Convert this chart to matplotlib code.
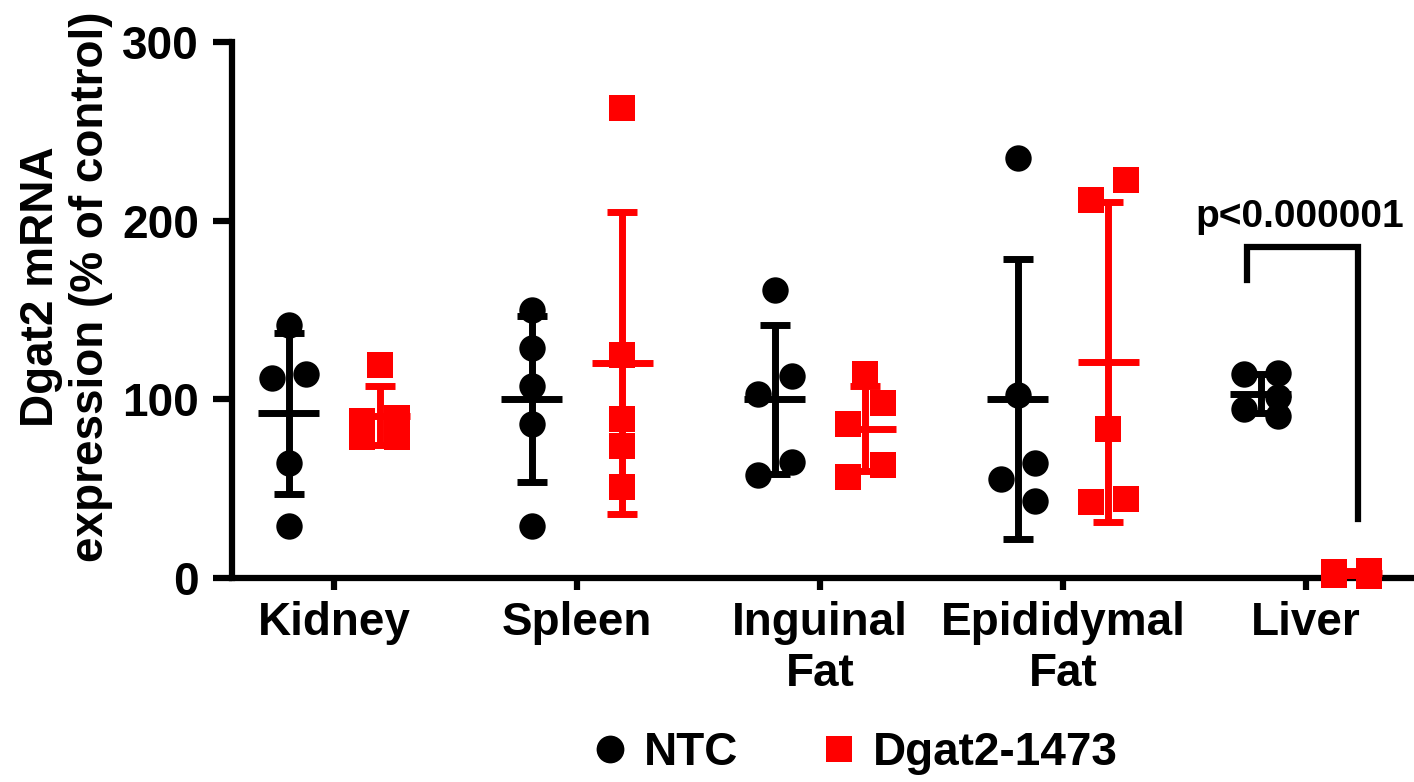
import matplotlib
matplotlib.use("Agg")
import matplotlib.pyplot as plt
from matplotlib.lines import Line2D
import numpy as np

# data (% of control)
tissues = ["Kidney", "Spleen", "Inguinal\nFat", "Epididymal\nFat", "Liver"]
ntc = [
    [141.6, 111.7, 114.0, 64.2, 29.1],
    [150.0, 128.9, 107.4, 86.0, 29.3],
    [161.2, 113.2, 102.8, 64.9, 57.5],
    [234.9, 102.4, 64.5, 55.4, 43.3],
    [114.5, 114.2, 101.5, 94.4, 90.8],
]
dgat2 = [
    [119.2, 89.7, 88.0, 78.7, 78.7],
    [263.2, 124.8, 88.8, 74.0, 50.8],
    [114.0, 97.8, 86.2, 63.2, 56.7],
    [222.7, 211.5, 83.2, 44.0, 42.7],
    [3.5, 4.0, 3.0, 1.5, 1.0],
]
p_label = "p<0.000001"

plt.rcParams["font.family"] = ["Liberation Sans", "DejaVu Sans"]
plt.rcParams["font.weight"] = "bold"

FS = 33
LW = 4.5
group_off = 0.187
swarm_dx = 0.07
overlap = 14.0


def swarm_offsets(values):
    """GraphPad-like spreading of overlapping points."""
    order = np.argsort(values)[::-1]
    vals = np.asarray(values)[order]
    offs = np.zeros(len(vals))
    start = 0
    for i in range(1, len(vals) + 1):
        if i == len(vals) or vals[i - 1] - vals[i] >= overlap:
            n = i - start
            if n > 1:
                for k in range(n):
                    offs[start + k] = swarm_dx if k % 2 == 0 else -swarm_dx
            start = i
    res = np.zeros(len(vals))
    res[order] = offs
    return res


fig = plt.figure(figsize=(14.14, 7.82), dpi=100)
ax = fig.add_axes([232 / 1414, 1 - 578 / 782, 1180 / 1414, 536 / 782])

x = np.arange(len(tissues))
for data, sign, color, marker in [(ntc, -1, "black", "o"), (dgat2, 1, "#ff0000", "s")]:
    for i, vals in enumerate(data):
        cx = x[i] + sign * group_off
        xs = cx + swarm_offsets(vals)
        ax.plot(xs, vals, linestyle="none", marker=marker, markersize=19,
                markeredgewidth=0, color=color, zorder=3, clip_on=False)
        m = np.mean(vals)
        sd = np.std(vals, ddof=1)
        ax.errorbar(cx, m, yerr=sd, fmt="none", ecolor=color, elinewidth=5,
                    capsize=10.8, capthick=5, zorder=4)
        ax.hlines(m, cx - 0.125, cx + 0.125, color=color, linewidth=5, zorder=4)

# significance bracket for liver
bx0, bx1 = x[4] - 0.245, x[4] + 0.215
ax.plot([bx0, bx0, bx1, bx1], [167, 185, 185, 33], color="black",
        linewidth=LW, solid_joinstyle="miter", clip_on=False, zorder=5)
ax.text(x[4] - 0.025, 196.5, p_label, ha="center", va="baseline",
        fontsize=28, fontweight="bold")

ax.set_xlim(-0.42, 4.436)
ax.set_ylim(0, 300)
ax.set_yticks([0, 100, 200, 300])
ax.set_xticks(x)
ax.set_xticklabels(tissues, fontsize=FS, fontweight="bold")
ax.tick_params(axis="y", labelsize=FS, length=13.7, width=LW, pad=10)
ax.tick_params(axis="x", length=8.6, width=LW, pad=8)
for lab in ax.get_yticklabels():
    lab.set_fontweight("bold")
for s in ["top", "right"]:
    ax.spines[s].set_visible(False)
for s in ["left", "bottom"]:
    ax.spines[s].set_linewidth(LW)
    ax.spines[s].set_capstyle("projecting")
    ax.spines[s].set_zorder(2)

fig.text(66 / 1414, 1 - 287 / 782, "Dgat2 mRNA\nexpression (% of control)",
         rotation=90, ha="center", va="center", multialignment="center",
         fontsize=FS, fontweight="bold", linespacing=1.15)

handles = [
    Line2D([], [], linestyle="none", marker="o", markersize=20,
           markeredgewidth=0, color="black"),
    Line2D([], [], linestyle="none", marker="s", markersize=19,
           markeredgewidth=0, color="#ff0000"),
]
fig.legend(handles, ["NTC", "Dgat2-1473"], loc="center",
           bbox_to_anchor=(857 / 1414, 1 - 753 / 782), ncol=2, frameon=False,
           prop={"size": FS, "weight": "bold"}, handlelength=0.6,
           handletextpad=0.45, columnspacing=1.9, borderpad=0)

fig.savefig("out.png", dpi=100)
